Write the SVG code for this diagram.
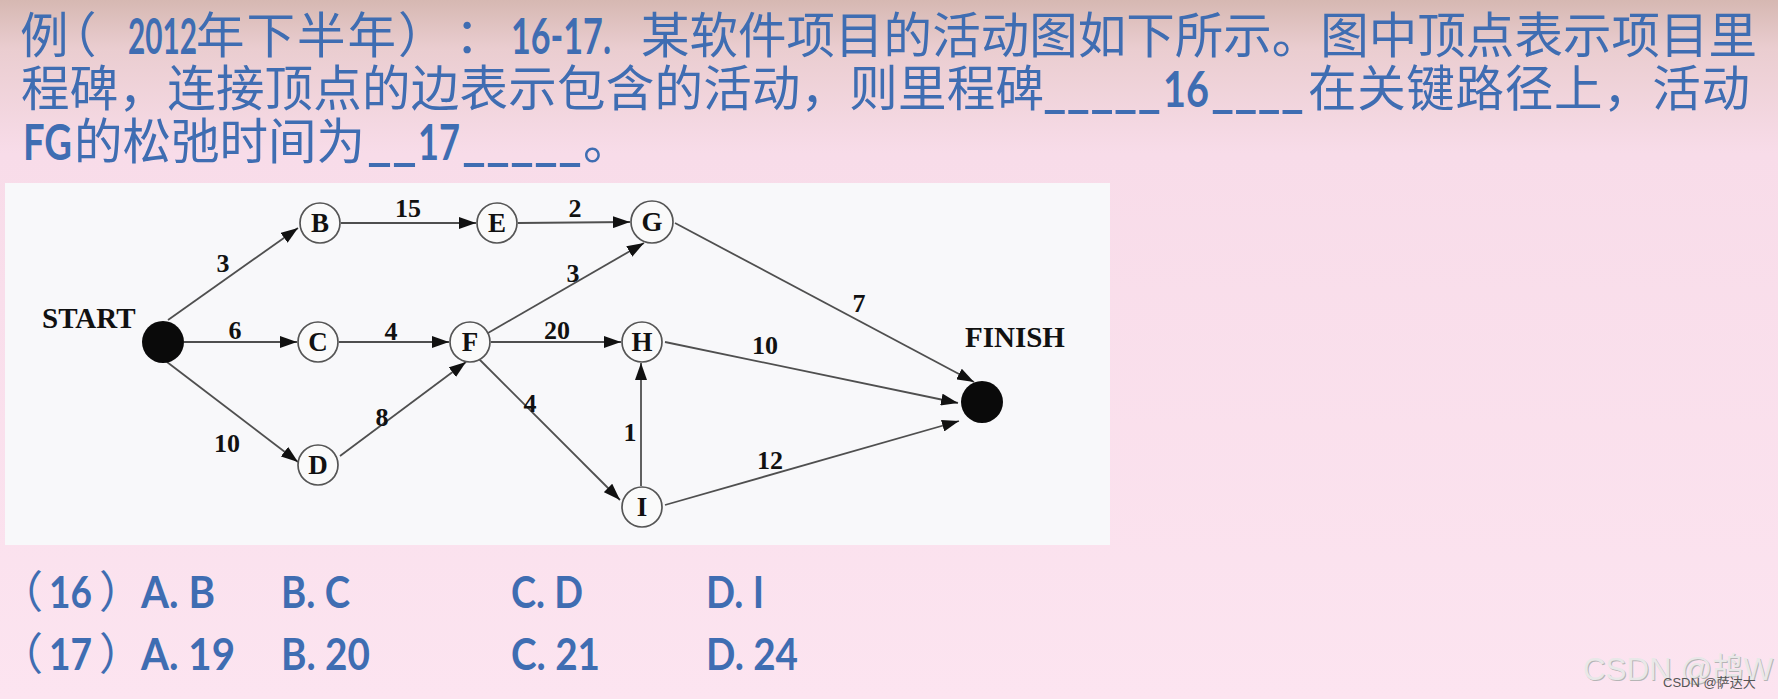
<svg xmlns="http://www.w3.org/2000/svg" width="1778" height="699" viewBox="0 0 1778 699">
<defs>
<linearGradient id="bg" x1="0" y1="0" x2="0" y2="1">
<stop offset="0" stop-color="#d6b8b2"/>
<stop offset="0.07" stop-color="#eacdd0"/>
<stop offset="0.22" stop-color="#f8dce9"/>
<stop offset="1" stop-color="#fce4f0"/>
</linearGradient>
<marker id="ah" viewBox="0 0 17 12" refX="17" refY="6" markerWidth="17" markerHeight="12" markerUnits="userSpaceOnUse" orient="auto">
<path d="M0,0 L17,6 L0,12 z" fill="#111"/>
</marker>
<style>
.cj{font-family:'Noto Sans CJK SC',sans-serif;font-size:48.5px;fill:#3f6db2}
.lb{font-family:Lato,'Noto Sans CJK SC',sans-serif;font-weight:bold;font-size:50px;fill:#3f6db2}
.an{font-family:Lato,'Noto Sans CJK SC',sans-serif;font-weight:bold;font-size:43px;fill:#3f6db2}
.ap{font-family:'Noto Sans CJK SC',sans-serif;font-size:44px;fill:#3f6db2}
.edge{stroke:#4f4f4f;stroke-width:1.8;fill:none;marker-end:url(#ah)}
.nd{fill:#fafafa;stroke:#555;stroke-width:1.7}
.blk{fill:#0a0a0a}
.nl{font-family:'Liberation Serif',serif;font-weight:bold;font-size:27px;fill:#111;text-anchor:middle}
.el{font-family:'Liberation Serif',serif;font-weight:bold;font-size:26px;fill:#111;text-anchor:middle}
.big{font-family:'Liberation Serif',serif;font-weight:bold;font-size:29px;fill:#111}
</style>
</defs>
<rect x="0" y="0" width="1778" height="699" fill="url(#bg)"/>

<g id="question">
<text class="cj" x="20" y="53">例</text>
<text class="cj" x="48" y="53">（</text>
<text class="lb" x="128" y="54" textLength="69" lengthAdjust="spacingAndGlyphs">2012</text>
<text class="cj" x="196" y="53" letter-spacing="2">年下半年）</text>
<text class="cj" x="455" y="53">：</text>
<text class="lb" x="511" y="54" textLength="100" lengthAdjust="spacingAndGlyphs">16-17.</text>
<text class="cj" x="641" y="53" textLength="1116" lengthAdjust="spacing">某软件项目的活动图如下所示。图中顶点表示项目里</text>

<text class="cj" x="21" y="106" textLength="1023" lengthAdjust="spacing">程碑，连接顶点的边表示包含的活动，则里程碑</text>
<text class="lb" x="1043" y="107" textLength="118" lengthAdjust="spacingAndGlyphs">_____</text>
<text class="lb" x="1163" y="107" textLength="46" lengthAdjust="spacingAndGlyphs">16</text>
<text class="lb" x="1211" y="107" textLength="93" lengthAdjust="spacingAndGlyphs">____</text>
<text class="cj" x="1308" y="106" textLength="442" lengthAdjust="spacing">在关键路径上，活动</text>

<text class="lb" x="23" y="160" textLength="49" lengthAdjust="spacingAndGlyphs">FG</text>
<text class="cj" x="74" y="159">的松弛时间为</text>
<text class="lb" x="367" y="160" textLength="50" lengthAdjust="spacingAndGlyphs">__</text>
<text class="lb" x="418" y="160" textLength="42" lengthAdjust="spacingAndGlyphs">17</text>
<text class="lb" x="462" y="160" textLength="120" lengthAdjust="spacingAndGlyphs">_____</text>
<text class="cj" x="583" y="159">。</text>
</g>

<rect id="panel" x="5" y="183" width="1105" height="362" fill="#f8f8fa"/>

<g id="connectors">
<line class="edge" x1="168" y1="320" x2="298" y2="228"/>
<line class="edge" x1="341" y1="223" x2="476" y2="223"/>
<line class="edge" x1="518" y1="223" x2="630" y2="222"/>
<line class="edge" x1="184" y1="342" x2="297" y2="342"/>
<line class="edge" x1="339" y1="342" x2="449" y2="342"/>
<line class="edge" x1="167" y1="362" x2="298" y2="462"/>
<line class="edge" x1="340" y1="456" x2="466" y2="362"/>
<line class="edge" x1="488" y1="333" x2="644" y2="243"/>
<line class="edge" x1="491" y1="342" x2="621" y2="342"/>
<line class="edge" x1="478" y1="358" x2="620" y2="500"/>
<line class="edge" x1="641" y1="486" x2="641" y2="363"/>
<line class="edge" x1="675" y1="223" x2="974" y2="382"/>
<line class="edge" x1="665" y1="342" x2="958" y2="403"/>
<line class="edge" x1="665" y1="505" x2="959" y2="421"/>
<text class="el" x="223" y="272">3</text>
<text class="el" x="408" y="217">15</text>
<text class="el" x="575" y="217">2</text>
<text class="el" x="235" y="339">6</text>
<text class="el" x="391" y="340">4</text>
<text class="el" x="227" y="452">10</text>
<text class="el" x="382" y="426">8</text>
<text class="el" x="573" y="282">3</text>
<text class="el" x="557" y="339">20</text>
<text class="el" x="530" y="412">4</text>
<text class="el" x="630" y="441">1</text>
<text class="el" x="859" y="312">7</text>
<text class="el" x="765" y="354">10</text>
<text class="el" x="770" y="469">12</text>
</g>

<g id="node-start"><circle class="blk" cx="163" cy="342" r="21"/><text class="big" x="42" y="328">START</text></g>
<g id="node-B"><circle class="nd" cx="320" cy="223" r="20"/><text class="nl" x="320" y="232">B</text></g>
<g id="node-E"><circle class="nd" cx="497" cy="223" r="20"/><text class="nl" x="497" y="232">E</text></g>
<g id="node-G"><circle class="nd" cx="652" cy="222" r="21"/><text class="nl" x="652" y="231">G</text></g>
<g id="node-C"><circle class="nd" cx="318" cy="342" r="20"/><text class="nl" x="318" y="351">C</text></g>
<g id="node-F"><circle class="nd" cx="470" cy="342" r="20"/><text class="nl" x="470" y="351">F</text></g>
<g id="node-H"><circle class="nd" cx="642" cy="342" r="20"/><text class="nl" x="642" y="351">H</text></g>
<g id="node-D"><circle class="nd" cx="318" cy="465" r="20"/><text class="nl" x="318" y="474">D</text></g>
<g id="node-I"><circle class="nd" cx="642" cy="507" r="20"/><text class="nl" x="642" y="516">I</text></g>
<g id="node-finish"><circle class="blk" cx="982" cy="402" r="21"/><text class="big" x="965" y="347">FINISH</text></g>

<g id="answers">
<text class="ap" x="-1" y="608">（</text>
<text class="an" x="49" y="608" textLength="43" lengthAdjust="spacingAndGlyphs">16</text>
<text class="ap" x="99" y="608">）</text>
<text class="an" x="141" y="608" textLength="74" lengthAdjust="spacingAndGlyphs">A. B</text>
<text class="an" x="281" y="608" textLength="69" lengthAdjust="spacingAndGlyphs">B. C</text>
<text class="an" x="511" y="608" textLength="72" lengthAdjust="spacingAndGlyphs">C. D</text>
<text class="an" x="706" y="608" textLength="58" lengthAdjust="spacingAndGlyphs">D. I</text>
<text class="ap" x="-1" y="670">（</text>
<text class="an" x="49" y="670" textLength="43" lengthAdjust="spacingAndGlyphs">17</text>
<text class="ap" x="99" y="670">）</text>
<text class="an" x="141" y="670" textLength="94" lengthAdjust="spacingAndGlyphs">A. 19</text>
<text class="an" x="281" y="670" textLength="89" lengthAdjust="spacingAndGlyphs">B. 20</text>
<text class="an" x="511" y="670" textLength="89" lengthAdjust="spacingAndGlyphs">C. 21</text>
<text class="an" x="706" y="670" textLength="92" lengthAdjust="spacingAndGlyphs">D. 24</text>
</g>

<g id="watermark">
<text x="1584" y="681" font-family="'Liberation Sans','Noto Sans CJK SC',sans-serif" font-size="32" fill="#b5b5b5" textLength="190" lengthAdjust="spacingAndGlyphs">CSDN @鸪W</text>
<text x="1583" y="680" font-family="'Liberation Sans','Noto Sans CJK SC',sans-serif" font-size="32" fill="#e8e8e8" textLength="190" lengthAdjust="spacingAndGlyphs">CSDN @鸪W</text>
<text x="1663" y="687" font-family="'Liberation Sans','Noto Sans CJK SC',sans-serif" font-size="13" fill="#555">CSDN @萨达大</text>
</g>
</svg>
